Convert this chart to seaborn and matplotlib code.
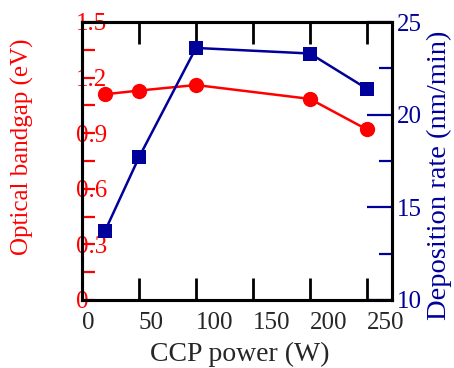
import numpy as np
import pandas as pd
import matplotlib
matplotlib.use("Agg")
import matplotlib.pyplot as plt
import seaborn as sns
from matplotlib.ticker import MultipleLocator

power = [20, 50, 100, 200, 250]
bandgap = [1.11, 1.13, 1.16, 1.085, 0.92]
dep_rate = [13.7, 17.7, 23.6, 23.3, 21.4]
x_ticks = [0, 50, 100, 150, 200, 250]
left_ticks = [0, 0.3, 0.6, 0.9, 1.2, 1.5]
right_ticks = [10, 15, 20, 25]

RED = "#ff0000"
NAVY = "#00009a"

sns.set_style("ticks")
plt.rcParams["font.family"] = ["Liberation Serif", "DejaVu Serif"]

df = pd.DataFrame({"power": power, "bandgap": bandgap, "dep": dep_rate})

fig = plt.figure(figsize=(4.54, 3.68), dpi=100)
ax = fig.add_axes([82/454, 1-300/368, 310/454, 278/368])
ax2 = ax.twinx()

sns.lineplot(data=df, x="power", y="bandgap", ax=ax, color=RED, marker="o",
             markersize=11, markeredgewidth=0, linewidth=1.8)
sns.lineplot(data=df, x="power", y="dep", ax=ax2, color=NAVY, marker="s",
             markersize=10.5, markeredgewidth=0, linewidth=1.8)

ax.set_xlim(0, 272)
ax.set_ylim(0, 1.5)
ax2.set_ylim(10, 25)

fs = 18
ax.set_xticks(x_ticks)
ax.set_xticklabels([str(t) for t in x_ticks], ha="left", fontsize=fs)
ax.set_yticks(left_ticks)
ax.set_yticklabels([f"{t:g}" for t in left_ticks], ha="left", fontsize=fs, color=RED)
ax.yaxis.set_minor_locator(MultipleLocator(0.15))
ax2.set_yticks(right_ticks)
ax2.set_yticklabels([str(t) for t in right_ticks], fontsize=fs, color=NAVY)
ax2.yaxis.set_minor_locator(MultipleLocator(2.5))

ax.tick_params(axis="x", which="major", direction="in", length=16, width=2,
               color="black", top=True, bottom=True, pad=8.5)
ax.tick_params(axis="y", which="both", direction="in", length=9.4, width=1.6,
               color=RED, pad=4.3, right=False)
ax2.tick_params(axis="y", which="major", direction="in", length=18, width=1.6,
                color=NAVY, pad=3.6)
ax2.tick_params(axis="y", which="minor", direction="in", length=9.4, width=1.6,
                color=NAVY)

for a in (ax, ax2):
    for s in a.spines.values():
        s.set_linewidth(2.2)
        s.set_color("black")
        s.set_visible(True)

ax.set_xlabel("CCP power (W)", fontsize=20)
ax.set_ylabel("Optical bandgap (eV)", fontsize=18, color=RED)
ax2.set_ylabel("Deposition rate (nm/min)", fontsize=20.5, color=NAVY)
ax.xaxis.set_label_coords(0.5 + (240 - 237) / 310, -0.15)
ax.yaxis.set_label_coords(-0.155, 0.55)
ax2.yaxis.set_label_coords(1.112, 0.45)

fig.savefig("out.png", dpi=100)
